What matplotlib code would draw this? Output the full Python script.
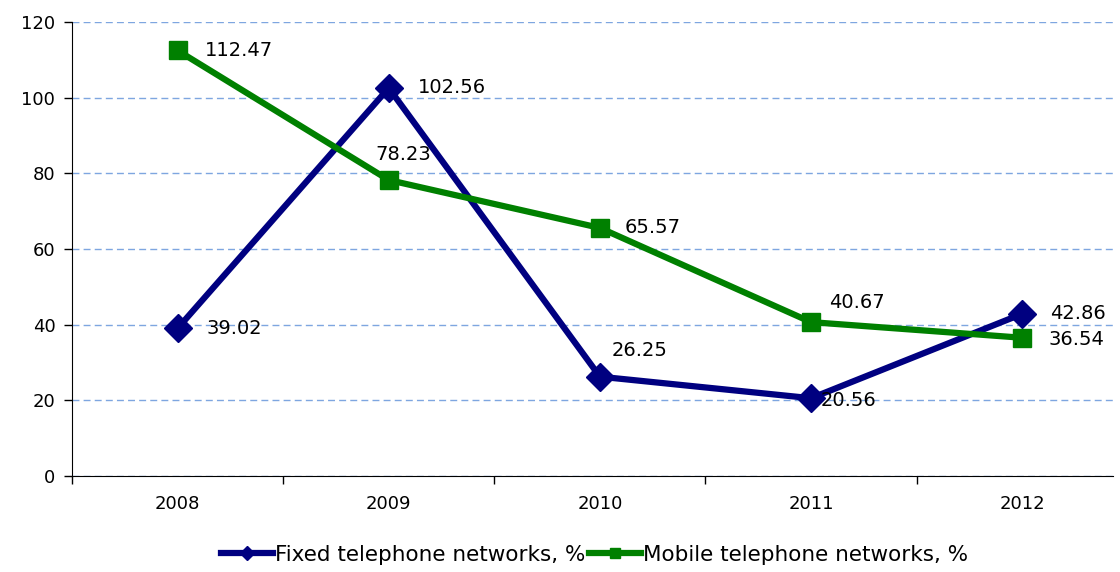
import matplotlib.pyplot as plt
import numpy as np

years = ['2008', '2009', '2010', '2011', '2012']
fixed = [39.02, 102.56, 26.25, 20.56, 42.86]
mobile = [112.47, 78.23, 65.57, 40.67, 36.54]

# label offsets in pixels (dx, dy)
fixed_off = [(29, 0), (29, 0), (12, 26), (10, -2), (28, 0)]
mobile_off = [(27, 0), (-13, 26), (25, 0), (18, 20), (26, -2)]

fig = plt.figure(figsize=(11.2, 5.72), dpi=100)
ax = fig.add_axes([72 / 1120, 96 / 572, (1113 - 72) / 1120, 454 / 572])

x = np.arange(len(years))
ax.plot(x, fixed, color='#000080', lw=4.5, marker='D', ms=14, label='Fixed telephone networks, %')
ax.plot(x, mobile, color='#008000', lw=4.5, marker='s', ms=13, label='Mobile telephone networks, %')

for xi, v, (dx, dy) in zip(x, fixed, fixed_off):
    ax.annotate(f'{v:.2f}', (xi, v), xytext=(dx * 0.72, dy * 0.72), textcoords='offset points',
                ha='left', va='center', fontsize=14)
for xi, v, (dx, dy) in zip(x, mobile, mobile_off):
    ax.annotate(f'{v:.2f}', (xi, v), xytext=(dx * 0.72, dy * 0.72), textcoords='offset points',
                ha='left', va='center', fontsize=14)

ax.set_xlim(-0.5, 4.43)
ax.set_ylim(0, 120)
ax.set_yticks(range(0, 121, 20))
ax.set_xticks(x)
ax.set_xticklabels(years)
ax.set_xticks(np.arange(-0.5, 4.5, 1), minor=True)
ax.tick_params(axis='x', which='major', length=0, pad=14, labelsize=13)
ax.tick_params(axis='x', which='minor', length=6, width=1)
ax.tick_params(axis='y', length=6, width=1, labelsize=13, pad=6)

ax.grid(axis='y', color='#7EA6E0', linestyle=(0, (5, 3)), lw=1)
ax.set_axisbelow(True)
for s in ['top', 'right']:
    ax.spines[s].set_visible(False)

fig.legend(loc='center', bbox_to_anchor=(0.531, 1 - 555 / 572), ncol=2, frameon=False,
           fontsize=15.5, handlelength=2.4, handletextpad=0.1, columnspacing=0.2, markerscale=0.5)

fig.savefig('out.png', dpi=100)
